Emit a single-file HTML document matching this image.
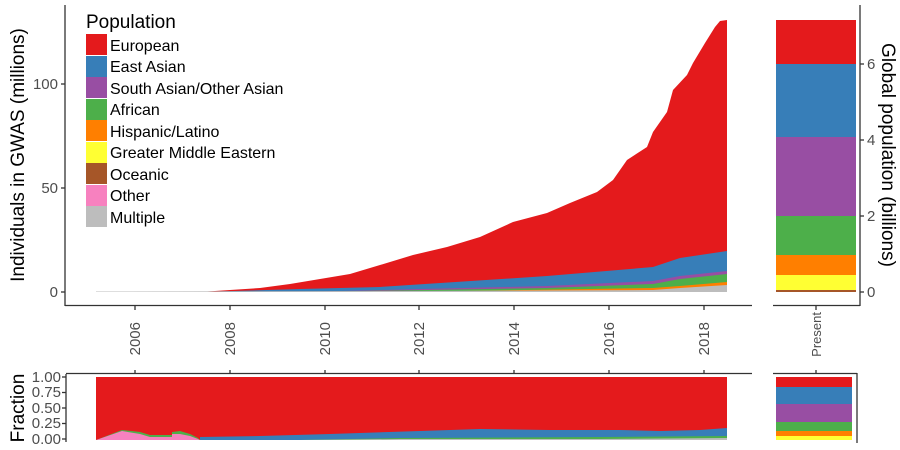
<!DOCTYPE html>
<html><head><meta charset="utf-8"><style>
html,body{margin:0;padding:0;background:#fff;}
svg{display:block;font-family:"Liberation Sans",sans-serif;}
</style></head><body>
<svg width="900" height="450" viewBox="0 0 900 450" xmlns="http://www.w3.org/2000/svg">
<polygon fill="#e41a1c" points="96,292 200,292 230,290 260,288 290,284 320,279 350,274 380,265 413,255 447,247 480,237 513,222 547,213 570,203 597,192 613,180 627,160 647,147 653,132 667,112 673,90 687,75 693,63 705,43 715,27 720,21 727,20 727,292"/>
<polygon fill="#377eb8" points="200,292 300,289 380,287 547,276 653,267 680,258 727,251 727,292"/>
<polygon fill="#984ea3" points="300,292 547,286 653,281 680,276 727,271 727,292"/>
<polygon fill="#4daf4a" points="300,292 547,288 653,284 680,279 727,274 727,292"/>
<polygon fill="#ff7f00" points="400,292 653,288 680,286 727,282 727,292"/>
<polygon fill="#bdbdbd" points="96,291.5 400,291 653,290 680,288 727,285 727,292 96,292"/>
<g stroke="#333" stroke-width="1.3" fill="none">
<line x1="65" y1="5" x2="65" y2="306"/>
<line x1="65" y1="305.5" x2="752" y2="305.5"/>
<line x1="61" y1="84" x2="65" y2="84"/><line x1="61" y1="188" x2="65" y2="188"/><line x1="61" y1="292" x2="65" y2="292"/>
<line x1="135" y1="306" x2="135" y2="310"/><line x1="230" y1="306" x2="230" y2="310"/><line x1="325" y1="306" x2="325" y2="310"/><line x1="419" y1="306" x2="419" y2="310"/><line x1="514" y1="306" x2="514" y2="310"/><line x1="609" y1="306" x2="609" y2="310"/><line x1="704" y1="306" x2="704" y2="310"/>
</g>
<g fill="#4d4d4d" font-size="15" text-anchor="end">
<text x="58" y="89">100</text><text x="58" y="193">50</text><text x="58" y="297">0</text>
</g>
<g fill="#4d4d4d" font-size="15" text-anchor="end">
<text transform="translate(140,322) rotate(-90)">2006</text>
<text transform="translate(235,322) rotate(-90)">2008</text>
<text transform="translate(330,322) rotate(-90)">2010</text>
<text transform="translate(424,322) rotate(-90)">2012</text>
<text transform="translate(519,322) rotate(-90)">2014</text>
<text transform="translate(614,322) rotate(-90)">2016</text>
<text transform="translate(709,322) rotate(-90)">2018</text>
</g>
<text transform="translate(24,155) rotate(-90)" text-anchor="middle" font-size="19" fill="#000">Individuals in GWAS (millions)</text>
<text x="86" y="28" font-size="19" fill="#000">Population</text>
<g>
<rect x="86" y="34" width="21" height="21" fill="#e41a1c"/>
<rect x="86" y="56" width="21" height="21" fill="#377eb8"/>
<rect x="86" y="77" width="21" height="21" fill="#984ea3"/>
<rect x="86" y="99" width="21" height="21" fill="#4daf4a"/>
<rect x="86" y="120" width="21" height="21" fill="#ff7f00"/>
<rect x="86" y="142" width="21" height="21" fill="#ffff33"/>
<rect x="86" y="163" width="21" height="21" fill="#a65628"/>
<rect x="86" y="185" width="21" height="21" fill="#f781bf"/>
<rect x="86" y="206" width="21" height="21" fill="#bdbdbd"/>
</g>
<g font-size="16" fill="#000">
<text x="110" y="51">European</text>
<text x="110" y="72">East Asian</text>
<text x="110" y="94">South Asian/Other Asian</text>
<text x="110" y="115">African</text>
<text x="110" y="137">Hispanic/Latino</text>
<text x="110" y="158">Greater Middle Eastern</text>
<text x="110" y="180">Oceanic</text>
<text x="110" y="201">Other</text>
<text x="110" y="223">Multiple</text>
</g>
<rect x="776" y="20" width="80" height="44" fill="#e41a1c"/>
<rect x="776" y="64" width="80" height="73" fill="#377eb8"/>
<rect x="776" y="137" width="80" height="79" fill="#984ea3"/>
<rect x="776" y="216" width="80" height="39" fill="#4daf4a"/>
<rect x="776" y="255" width="80" height="20" fill="#ff7f00"/>
<rect x="776" y="275" width="80" height="15" fill="#ffff33"/>
<rect x="776" y="290" width="80" height="2" fill="#a65628"/>
<g stroke="#333" stroke-width="1.3">
<line x1="860" y1="5" x2="860" y2="306"/>
<line x1="773" y1="305.5" x2="860" y2="305.5"/>
<line x1="816" y1="306" x2="816" y2="310"/>
<line x1="860" y1="64" x2="864" y2="64"/><line x1="860" y1="140" x2="864" y2="140"/><line x1="860" y1="216" x2="864" y2="216"/><line x1="860" y1="292" x2="864" y2="292"/>
</g>
<g fill="#4d4d4d" font-size="15">
<text x="867" y="69">6</text><text x="867" y="145">4</text><text x="867" y="221">2</text><text x="867" y="297">0</text>
</g>
<text transform="translate(882,155) rotate(90)" text-anchor="middle" font-size="19" fill="#000">Global population (billions)</text>
<text transform="translate(821,312) rotate(-90)" text-anchor="end" font-size="13" fill="#4d4d4d">Present</text>
<rect x="96" y="377" width="631" height="63" fill="#e41a1c"/>
<polygon fill="#377eb8" points="200,440 200,437 260,436 330,434 420,431 480,429 550,430 620,430 660,431 700,430 727,428 727,440"/>
<polygon fill="#4daf4a" points="96,440 122,430 140,432 150,435 172,435 172,432 180,431 190,434 198,438 200,440"/>
<polygon fill="#f781bf" points="96,440 122,431 140,434 150,437 172,437 172,434 180,434 190,436 198,439 200,440"/>
<polygon fill="#4daf4a" points="300,440 400,438 600,437 727,436 727,440"/>
<polygon fill="#bdbdbd" points="300,440 400,439 600,439 727,438 727,440"/>
<g stroke="#333" stroke-width="1.3">
<line x1="66" y1="374" x2="66" y2="442"/>
<line x1="66" y1="373.5" x2="752" y2="373.5"/>
<line x1="135" y1="370" x2="135" y2="374"/><line x1="230" y1="370" x2="230" y2="374"/><line x1="325" y1="370" x2="325" y2="374"/><line x1="419" y1="370" x2="419" y2="374"/><line x1="514" y1="370" x2="514" y2="374"/><line x1="609" y1="370" x2="609" y2="374"/><line x1="704" y1="370" x2="704" y2="374"/>
<line x1="62" y1="377" x2="66" y2="377"/><line x1="62" y1="392.5" x2="66" y2="392.5"/><line x1="62" y1="408" x2="66" y2="408"/><line x1="62" y1="423.5" x2="66" y2="423.5"/><line x1="62" y1="439" x2="66" y2="439"/>
</g>
<g fill="#4d4d4d" font-size="15" text-anchor="end">
<text x="61" y="382">1.00</text><text x="61" y="397">0.75</text><text x="61" y="413">0.50</text><text x="61" y="428">0.25</text><text x="61" y="444">0.00</text>
</g>
<text transform="translate(24,408) rotate(-90)" text-anchor="middle" font-size="19" fill="#000">Fraction</text>
<rect x="776" y="377" width="76" height="10" fill="#e41a1c"/>
<rect x="776" y="387" width="76" height="17" fill="#377eb8"/>
<rect x="776" y="404" width="76" height="18" fill="#984ea3"/>
<rect x="776" y="422" width="76" height="9" fill="#4daf4a"/>
<rect x="776" y="431" width="76" height="5" fill="#ff7f00"/>
<rect x="776" y="436" width="76" height="4" fill="#ffff33"/>
<g stroke="#333" stroke-width="1.3">
<line x1="773" y1="373.5" x2="857" y2="373.5"/>
<line x1="857" y1="373" x2="857" y2="443"/>
<line x1="816" y1="370" x2="816" y2="374"/>
</g>
</svg>
</body></html>
